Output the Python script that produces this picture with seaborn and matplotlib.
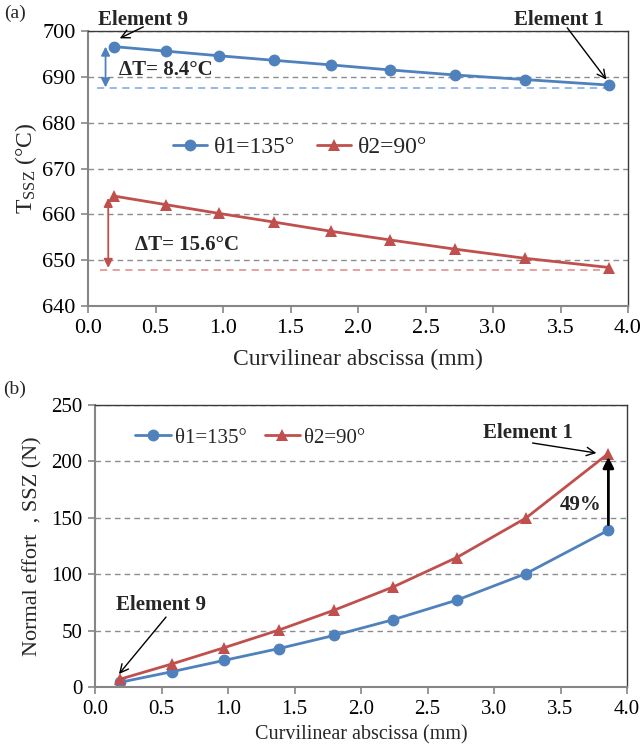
import numpy as np
import pandas as pd
import matplotlib
matplotlib.use("Agg")
import matplotlib.pyplot as plt
import seaborn as sns

# Curvilinear abscissa of the nine elements (element 9 -> element 1), mm
abscissa = [0.19, 0.58, 0.97, 1.38, 1.80, 2.24, 2.72, 3.24, 3.86]

# Temperature in the secondary shear zone, °C
temp_theta1 = [696.6, 695.6, 694.6, 693.6, 692.6, 691.5, 690.4, 689.4, 688.2]
temp_theta2 = [664.0, 662.1, 660.2, 658.3, 656.3, 654.4, 652.4, 650.4, 648.4]

# Normal effort in the secondary shear zone, N
force_theta1 = [4.2, 13.6, 23.6, 34.0, 45.8, 59.6, 77.0, 100.5, 139.0]
force_theta2 = [7.0, 20.5, 34.8, 50.4, 68.2, 88.6, 114.8, 149.8, 207.0]

case_labels = ["θ1=135°", "θ2=90°"]
x_ticks = [0.0, 0.5, 1.0, 1.5, 2.0, 2.5, 3.0, 3.5, 4.0]
temp_ticks = [640, 650, 660, 670, 680, 690, 700]
force_ticks = [0, 50, 100, 150, 200, 250]

BLUE = "#4F81BD"
RED = "#C0504D"
SERIF = "Liberation Serif"

sns.set_style("ticks")
plt.rcParams["font.family"] = [SERIF, "DejaVu Serif"]
plt.rcParams["mathtext.fontset"] = "custom"
plt.rcParams["mathtext.rm"] = SERIF
plt.rcParams["mathtext.it"] = SERIF + ":italic"

temp_df = pd.DataFrame({
    "s": abscissa * 2,
    "T": temp_theta1 + temp_theta2,
    "case": [case_labels[0]] * len(abscissa) + [case_labels[1]] * len(abscissa),
})
force_df = pd.DataFrame({
    "s": abscissa * 2,
    "F": force_theta1 + force_theta2,
    "case": [case_labels[0]] * len(abscissa) + [case_labels[1]] * len(abscissa),
})

W, H = 641, 746
fig = plt.figure(figsize=(W / 100, H / 100), dpi=100)


def px_axes(left, top, right, bottom):
    return fig.add_axes([left / W, 1 - bottom / H, (right - left) / W, (bottom - top) / H])


ax1 = px_axes(88, 31, 628, 306)
ax2 = px_axes(95, 405, 627, 687)

palette = {case_labels[0]: BLUE, case_labels[1]: RED}
markers = {case_labels[0]: "o", case_labels[1]: "^"}


def style_axes(ax, yticks, tick_size):
    ax.set_xlim(0, 4)
    ax.set_ylim(yticks[0], yticks[-1])
    ax.set_xticks(x_ticks)
    ax.set_xticklabels([f"{v:.1f}" for v in x_ticks])
    ax.set_yticks(yticks)
    ax.grid(axis="y", color="#8c8c8c", linestyle=(0, (4, 3)), linewidth=1.0)
    ax.grid(axis="x", visible=False)
    ax.set_axisbelow(True)
    for side in ("left", "bottom"):
        ax.spines[side].set_color("#868686")
        ax.spines[side].set_linewidth(1.5)
    for side in ("top", "right"):
        ax.spines[side].set_visible(True)
        ax.spines[side].set_color("#3a3a3a")
        ax.spines[side].set_linewidth(1.0)
    ax.tick_params(axis="both", direction="out", length=5, width=1.2,
                   color="#868686", labelsize=tick_size, labelcolor="black", pad=4)


def pointer(ax, tip, tail, shrink_tail=0):
    ax.annotate("", xy=tip, xytext=tail, annotation_clip=False,
                arrowprops=dict(arrowstyle="->", color="black", lw=1.0,
                                mutation_scale=15, shrinkA=shrink_tail, shrinkB=0))


# ---------- (a) temperature ----------
sns.lineplot(data=temp_df, x="s", y="T", hue="case", style="case",
             palette=palette, markers=markers, dashes=False, sort=False,
             linewidth=2.0, markersize=8.5, markeredgewidth=0, ax=ax1)
style_axes(ax1, temp_ticks, 16)
ax1.set_xlabel("Curvilinear abscissa (mm)", fontsize=17, labelpad=8)
ax1.set_ylabel(r"T$_{\mathregular{SSZ}}$ (°C)", fontsize=17, labelpad=2)
h, l = ax1.get_legend_handles_labels()
ax1.legend(h, l, loc="center", bbox_to_anchor=(0.393, 0.578), ncol=2,
           frameon=False, fontsize=17, handlelength=1.45, handletextpad=0.3,
           columnspacing=0.9)

dT1 = round(temp_theta1[0] - temp_theta1[-1], 1)
dT2 = round(temp_theta2[0] - temp_theta2[-1], 1)
gap = 0.6
lvl1 = temp_theta1[0] - dT1 - gap
lvl2 = temp_theta2[0] - dT2 - gap

ax1.plot([0.07, 3.87], [lvl1, lvl1], color="#8EB4E3", lw=1.3, ls=(0, (4, 3)), zorder=1)
ax1.plot([0.09, 3.86], [lvl2, lvl2], color="#E39A98", lw=1.3, ls=(0, (4, 3)), zorder=1)
ax1.annotate("", xy=(0.13, lvl1 + 0.1), xytext=(0.13, temp_theta1[0]),
             arrowprops=dict(arrowstyle="<|-|>", color=BLUE, lw=1.3,
                             mutation_scale=13, shrinkA=0, shrinkB=0))
ax1.annotate("", xy=(0.15, lvl2 + 0.5), xytext=(0.15, temp_theta2[0] - 0.4),
             arrowprops=dict(arrowstyle="<|-|>", color=RED, lw=1.3,
                             mutation_scale=13, shrinkA=0, shrinkB=0))
ax1.text(0.23, 691.5, f"ΔT= {dT1}°C", fontsize=15, fontweight="bold", va="center")
ax1.text(0.35, 653.3, f"ΔT= {dT2}°C", fontsize=15, fontweight="bold", va="center")

ax1.text(0.41, 702.4, "Element 9", fontsize=15, fontweight="bold",
         ha="center", va="center", clip_on=False)
pointer(ax1, tip=(0.235, 698.4), tail=(0.41, 700.9))
ax1.text(3.49, 702.4, "Element 1", fontsize=15, fontweight="bold",
         ha="center", va="center", clip_on=False)
pointer(ax1, tip=(3.84, 689.4), tail=(3.55, 700.7))

# ---------- (b) normal effort ----------
sns.lineplot(data=force_df, x="s", y="F", hue="case", style="case",
             palette=palette, markers=markers, dashes=False, sort=False,
             linewidth=2.0, markersize=8.5, markeredgewidth=0, ax=ax2)
style_axes(ax2, force_ticks, 15)
ax2.set_xlabel("Curvilinear abscissa (mm)", fontsize=14.5, labelpad=5)
ax2.set_ylabel("Normal effort  , SSZ (N)", fontsize=16, labelpad=6)
h, l = ax2.get_legend_handles_labels()
ax2.legend(h, l, loc="center", bbox_to_anchor=(0.292, 0.883), ncol=2,
           frameon=False, fontsize=15, handlelength=1.7, handletextpad=0.2,
           columnspacing=0.85)

gain = round((force_theta2[-1] / force_theta1[-1] - 1) * 100)
ax2.annotate("", xy=(abscissa[-1], force_theta2[-1] - 3), xytext=(abscissa[-1], force_theta1[-1]),
             arrowprops=dict(arrowstyle="-|>", color="black", lw=2.0,
                             mutation_scale=16, shrinkA=4, shrinkB=0))
ax2.text(3.65, 161.3, f"{gain}%", fontsize=15, fontweight="bold", ha="center", va="center")

ax2.text(3.256, 225.2, "Element 1", fontsize=15, fontweight="bold", ha="center", va="center")
pointer(ax2, tip=(3.77, 207.4), tail=(3.29, 216.3))
ax2.text(0.50, 72.7, "Element 9", fontsize=15, fontweight="bold", ha="center", va="center")
pointer(ax2, tip=(0.18, 11.5), tail=(0.534, 62.0))

# panel tags
fig.text(15 / W, 1 - 13 / H, "(a)", fontsize=14, ha="center", va="center")
fig.text(15 / W, 1 - 389 / H, "(b)", fontsize=14, ha="center", va="center")

fig.savefig("out.png", dpi=100)
